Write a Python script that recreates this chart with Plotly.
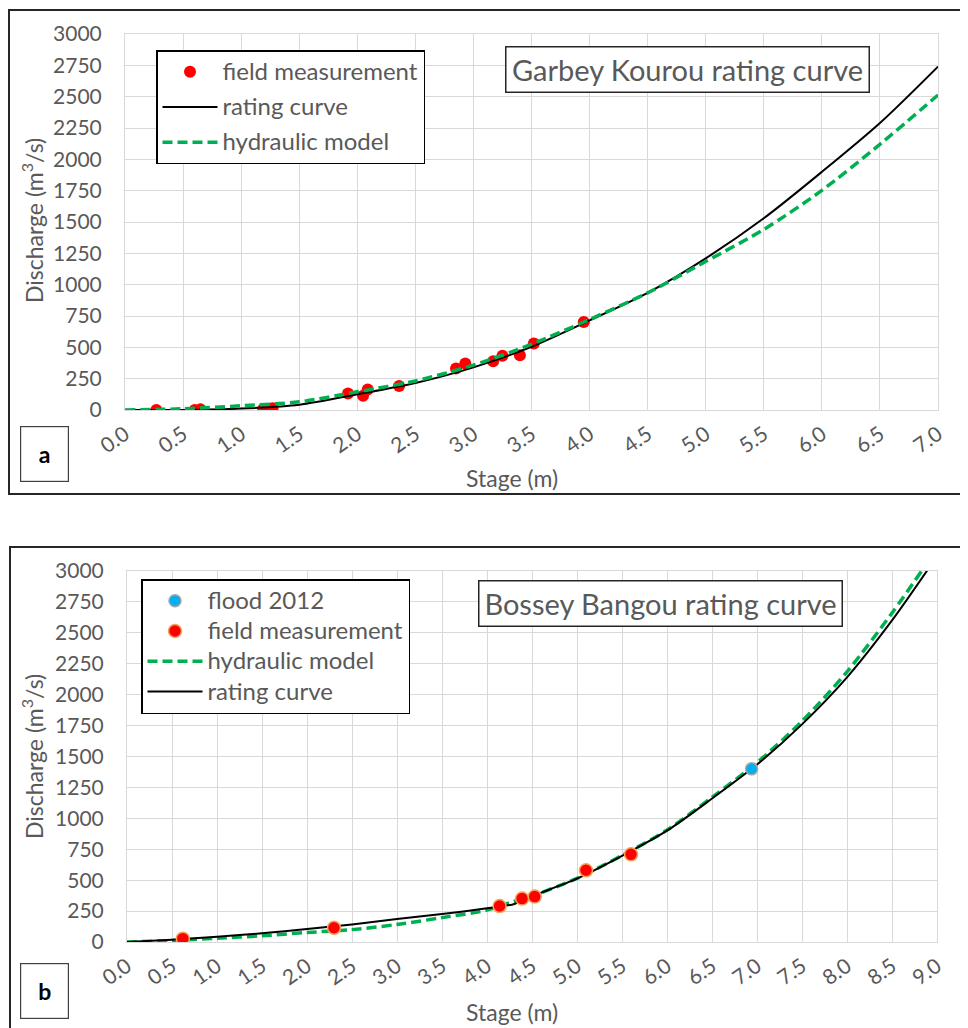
import plotly.graph_objects as go

# ---------------- data: panel a (Garbey Kourou) ----------------
a_meas_stage = [0.27, 0.60, 0.65, 1.19, 1.27, 1.92, 2.05, 2.09, 2.36, 2.85, 2.93, 3.17, 3.25, 3.40, 3.52, 3.95]
a_meas_q = [0, 0, 5, 8, 13, 132, 114, 164, 191, 331, 371, 389, 432, 437, 530, 702]

a_curve_stage = [0.0, 0.5, 1.0, 1.5, 2.0, 2.5, 3.0, 3.5, 4.0, 4.5, 5.0, 5.5, 6.0, 6.5, 7.0]
a_rating_q = [0, 0, 11, 42, 125, 215, 340, 505, 715, 935, 1210, 1530, 1900, 2290, 2740]
a_hydraulic_q = [0, 10, 34, 65, 145, 232, 358, 525, 722, 935, 1185, 1440, 1752, 2120, 2513]

# ---------------- data: panel b (Bossey Bangou) ----------------
b_flood_stage = [6.94]
b_flood_q = [1400]
b_meas_stage = [0.62, 2.30, 4.14, 4.39, 4.53, 5.10, 5.60]
b_meas_q = [27, 115, 291, 351, 367, 580, 709]

b_rating_low_stage = [0.0, 0.5, 1.0, 1.5, 2.0, 2.5, 3.0, 3.5, 4.0, 4.29]
b_rating_low_q = [0, 19, 43, 70, 105, 142, 186, 226, 272, 303]
b_rating_high_stage = [4.29, 4.5, 5.0, 5.5, 6.0, 6.5, 7.0, 7.5, 8.0, 8.5, 9.0]
b_rating_high_q = [303, 370, 512, 696, 900, 1160, 1435, 1760, 2140, 2600, 3120]

b_hyd_stage = [0.0, 0.5, 1.0, 1.5, 2.0, 2.5, 3.0, 3.5, 4.0, 4.25, 4.5, 5.0, 5.5, 6.0, 6.5, 7.0, 7.5, 8.0, 8.5, 9.0]
b_hyd_q = [0, 12, 30, 50, 77, 100, 142, 197, 258, 318, 372, 515, 700, 905, 1170, 1450, 1785, 2185, 2660, 3180]

a_xticks = [0.0, 0.5, 1.0, 1.5, 2.0, 2.5, 3.0, 3.5, 4.0, 4.5, 5.0, 5.5, 6.0, 6.5, 7.0]
b_xticks = [0.0, 0.5, 1.0, 1.5, 2.0, 2.5, 3.0, 3.5, 4.0, 4.5, 5.0, 5.5, 6.0, 6.5, 7.0, 7.5, 8.0, 8.5, 9.0]
yticks = [0, 250, 500, 750, 1000, 1250, 1500, 1750, 2000, 2250, 2500, 2750, 3000]

# ---------------- styling ----------------
OFF = 8                      # page body margin of the html page
W, H = 968 - OFF, 1028 - OFF
FONT = "Lato, 'Open Sans', sans-serif"
GRAY = "#595959"
GRID = "#d9d9d9"
RED = "#ff0000"
GREEN = "#00b050"
BLUE = "#00b0f0"


def px(x):
    return (x - OFF) / W


def py(y):
    return 1 - (y - OFF) / H


def big(s):
    return '<span style="font-size:24px">' + s + '</span>'


fig = go.Figure()

# panel a traces
fig.add_trace(go.Scatter(x=a_meas_stage, y=a_meas_q, mode="markers", name=big("field measurement"),
                         marker=dict(color=RED, size=12, line=dict(width=0)),
                         xaxis="x", yaxis="y", legend="legend", legendgroup="a1"))
fig.add_trace(go.Scatter(x=a_curve_stage, y=a_rating_q, mode="lines", name=big("rating curve"),
                         line=dict(color="black", width=2, shape="spline", smoothing=0.8),
                         xaxis="x", yaxis="y", legend="legend", legendgroup="a2"))
fig.add_trace(go.Scatter(x=a_curve_stage, y=a_hydraulic_q, mode="lines", name=big("hydraulic model"),
                         line=dict(color=GREEN, width=3.5, dash="10px,5px", shape="spline", smoothing=0.8),
                         xaxis="x", yaxis="y", legend="legend", legendgroup="a3"))

# panel b traces
fig.add_trace(go.Scatter(x=b_hyd_stage, y=b_hyd_q, mode="lines", name=big("hydraulic model"),
                         line=dict(color=GREEN, width=3.5, dash="10px,5px", shape="spline", smoothing=0.8),
                         xaxis="x2", yaxis="y2", legend="legend2", legendrank=3))
fig.add_trace(go.Scatter(x=b_rating_low_stage, y=b_rating_low_q, mode="lines", name=big("rating curve"),
                         line=dict(color="black", width=2, shape="spline", smoothing=0.8),
                         xaxis="x2", yaxis="y2", legend="legend2", legendgroup="rc", legendrank=4))
fig.add_trace(go.Scatter(x=b_rating_high_stage, y=b_rating_high_q, mode="lines", name=big("rating curve"),
                         line=dict(color="black", width=2, shape="spline", smoothing=0.8),
                         xaxis="x2", yaxis="y2", legend="legend2", legendgroup="rc", showlegend=False))
fig.add_trace(go.Scatter(x=b_meas_stage, y=b_meas_q, mode="markers", name=big("field measurement"),
                         marker=dict(color=RED, size=13, line=dict(color="#f7a35c", width=1.5)),
                         xaxis="x2", yaxis="y2", legend="legend2", legendrank=2))
fig.add_trace(go.Scatter(x=b_flood_stage, y=b_flood_q, mode="markers", name=big("flood 2012"),
                         marker=dict(color=BLUE, size=12, line=dict(color="#a6a6a6", width=1.5)),
                         xaxis="x2", yaxis="y2", legend="legend2", legendrank=1))

axis_common = dict(showgrid=True, gridcolor=GRID, gridwidth=1, zeroline=False,
                   showline=True, linecolor=GRID, linewidth=1, mirror=True, automargin=False,
                   tickfont=dict(family=FONT, size=21, color=GRAY), ticks="")

legend_common = dict(bgcolor="white", bordercolor="black", borderwidth=1.5,
                     xanchor="left", yanchor="top", itemwidth=55,
                     font=dict(family=FONT, size=21, color=GRAY))

fig.update_layout(
    template="none",
    width=W, height=H,
    margin=dict(l=0, r=0, t=0, b=0, pad=0, autoexpand=False),
    paper_bgcolor="white", plot_bgcolor="white",
    font=dict(family=FONT, color=GRAY),
    xaxis=dict(domain=[px(125), px(938)], range=[0, 7], anchor="y",
               tickvals=a_xticks, tickformat=".1f", tickangle=-35, ticklabelstandoff=3,
               **axis_common),
    yaxis=dict(domain=[py(410), py(34)], range=[0, 3000], anchor="x",
               tickvals=yticks, ticklabelstandoff=18, **axis_common),
    xaxis2=dict(domain=[px(127), px(937)], range=[0, 9], anchor="y2",
                tickvals=b_xticks, tickformat=".1f", tickangle=-35, ticklabelstandoff=3,
                **axis_common),
    yaxis2=dict(domain=[py(942), py(571)], range=[0, 3000], anchor="x2",
                tickvals=yticks, ticklabelstandoff=18, **axis_common),
    legend=dict(x=px(156), y=py(50), traceorder="grouped", tracegroupgap=5, **legend_common),
    legend2=dict(x=px(141), y=py(579), tracegroupgap=0, **legend_common),
    showlegend=True,
)

# outer frames
fig.add_shape(type="rect", xref="paper", yref="paper", x0=px(9), x1=px(966), y0=py(494), y1=py(10),
              line=dict(color="#262626", width=2), layer="below")
fig.add_shape(type="rect", xref="paper", yref="paper", x0=px(10), x1=px(966), y0=py(1032), y1=py(547),
              line=dict(color="#262626", width=2), layer="below")

ann = []
common_ann = dict(xref="paper", yref="paper", showarrow=False, xanchor="center", yanchor="middle")
# title boxes
ann.append(dict(text="Garbey Kourou rating curve", x=px(687), y=py(69.5),
                font=dict(family=FONT, size=29, color=GRAY),
                bgcolor="white", bordercolor="#262626", borderwidth=1.5, borderpad=4,
                width=354, height=36, **common_ann))
ann.append(dict(text="Bossey Bangou rating curve", x=px(660.5), y=py(603.5),
                font=dict(family=FONT, size=29, color=GRAY),
                bgcolor="white", bordercolor="#262626", borderwidth=1.5, borderpad=4,
                width=354, height=36, **common_ann))
# panel labels
ann.append(dict(text="<b>a</b>", x=px(44.5), y=py(454),
                font=dict(family=FONT, size=23, color="black"),
                bordercolor="#404040", borderwidth=1.2, borderpad=0, width=47, height=54, **common_ann))
ann.append(dict(text="<b>b</b>", x=px(44.5), y=py(990.5),
                font=dict(family=FONT, size=23, color="black"),
                bordercolor="#404040", borderwidth=1.2, borderpad=0, width=47, height=54, **common_ann))
# axis titles
for yc in (478, 1012):
    ann.append(dict(text="Stage (m)", x=px(512), y=py(yc),
                    font=dict(family=FONT, size=23, color=GRAY), **common_ann))
for yc in (221, 757):
    ann.append(dict(text="Discharge (m<sup>3</sup>/s)", x=px(32), y=py(yc), textangle=-90,
                    font=dict(family=FONT, size=23, color=GRAY), **common_ann))
fig.update_layout(annotations=ann)

fig.write_html("out.html")
